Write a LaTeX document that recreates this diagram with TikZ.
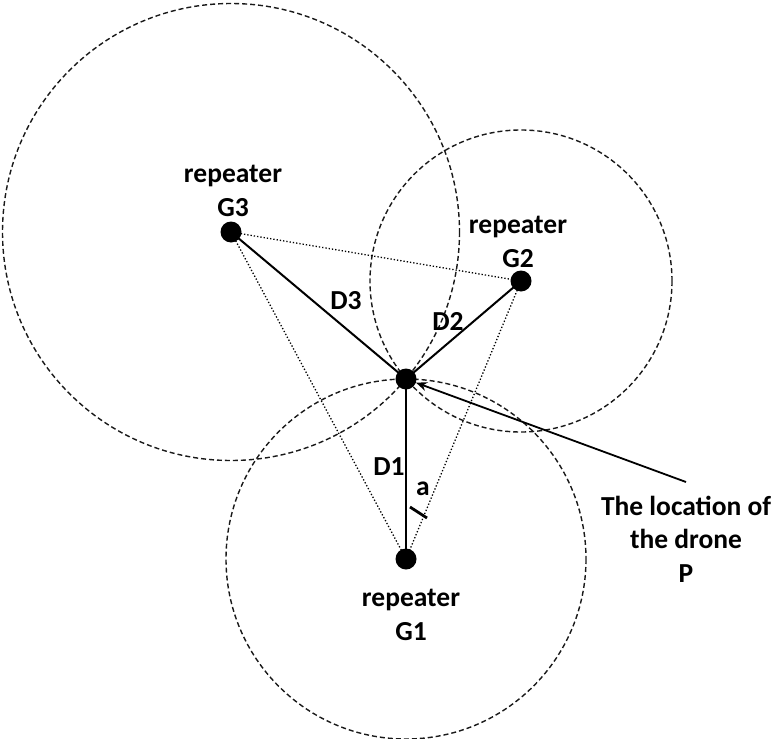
\documentclass[tikz,border=0pt]{standalone}
\usepackage{fontspec}
\setmainfont{Carlito}
\usetikzlibrary{arrows.meta}
\begin{document}
\begin{tikzpicture}[x=1pt,y=-1pt,
  dot/.style={circle,fill=black,inner sep=0pt,minimum size=21pt},
  lbl/.style={font=\fontsize{27.5}{33.5}\selectfont\bfseries,align=center,inner sep=0pt},
  rangecircle/.style={draw=black!90,dash pattern=on 5pt off 3pt,line width=1.4pt},
  dist/.style={line width=2pt},
  aux/.style={dotted,line width=1.3pt},
]
\useasboundingbox (0,0) rectangle (775,738);
% positions
\coordinate (cP) at (406,379);
\coordinate (c1) at (406,559);
\coordinate (c2) at (521,281);
\coordinate (c3) at (231,232);
% range circles
\draw[rangecircle] (c3) circle[radius=228.5];
\draw[rangecircle] (c2) circle[radius=151];
\draw[rangecircle] (c1) circle[radius=180];
% auxiliary dotted lines
\draw[aux] (c3) -- (c2);
\draw[aux] (c3) -- (c1);
\draw[aux] (c2) -- (c1);
% distances
\draw[dist] (c3) -- (cP);
\draw[dist] (c2) -- (cP);
\draw[dist] (c1) -- (cP);
% angle mark
\draw[line width=2.8pt] ([shift={(4,-52)}]c1) -- ([shift={(21,-41)}]c1);
% dots
\node[dot] (P) at (cP) {};
\node[dot] (G1) at (c1) {};
\node[dot] (G2) at (c2) {};
\node[dot] (G3) at (c3) {};
% labels (base = baseline of the last line)
\node[lbl,anchor=base] (l3) at (233,216) {repeater\\G3};
\node[lbl,anchor=base] (l2) at (518,267) {repeater\\G2};
\node[lbl,anchor=base] (l1) at (411,640) {repeater\\G1};
\node[lbl,anchor=base] (lp) at (686,582) {The location of\\the drone\\P};
\node[lbl] (d3) at (346,301) {D3};
\node[lbl] (d2) at (448,321) {D2};
\node[lbl] (d1) at (389,467) {D1};
\node[lbl] (la) at (423,489) {a};
% arrow
\coordinate (tail) at (686,482);
\draw[line width=1.8pt,-{Stealth[length=11pt,width=9pt]}] (tail) -- (P);
\end{tikzpicture}
\end{document}
